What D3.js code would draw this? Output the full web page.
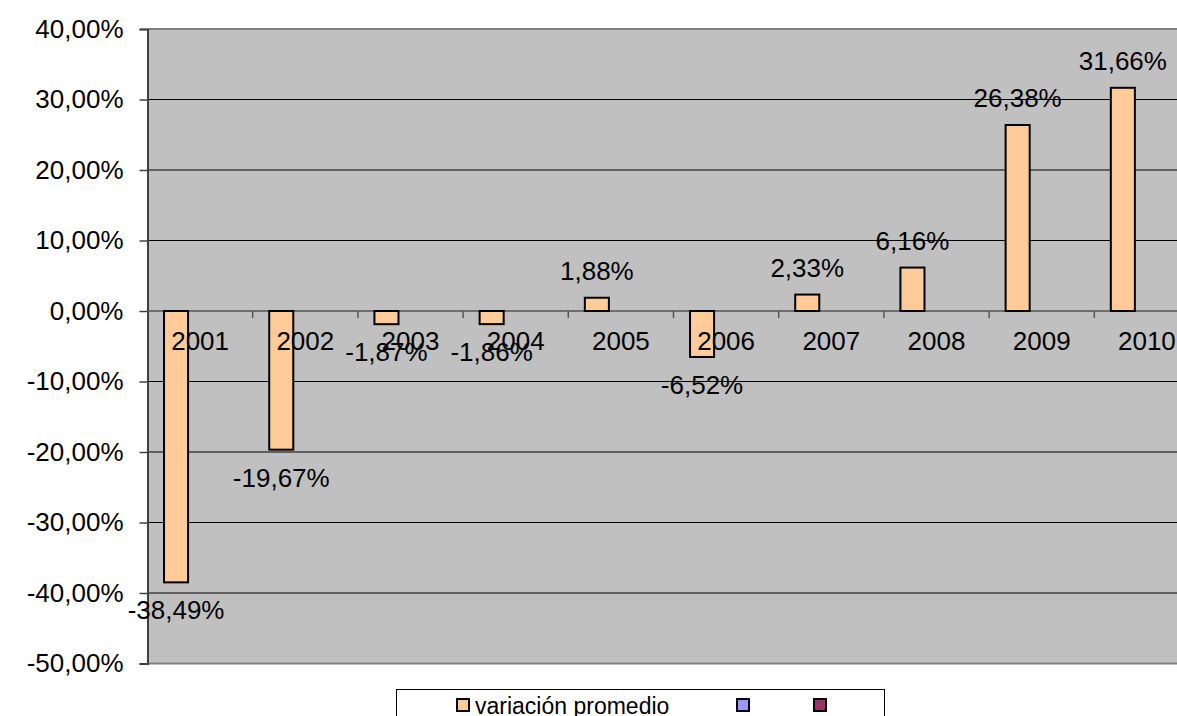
<!DOCTYPE html>
<html>
<head>
<meta charset="utf-8">
<script src="https://cdn.jsdelivr.net/npm/d3@7"></script>
<style>
    body { margin: 0; background: #fff; }
    svg { display: block; font-family: "Liberation Sans", Arial, sans-serif; }
</style>
</head>
<body>
<div id="chart"></div>
<script>
// Data
const years = ['2001', '2002', '2003', '2004', '2005', '2006', '2007', '2008', '2009', '2010'];
const variacion = [-38.49, -19.67, -1.87, -1.86, 1.88, -6.52, 2.33, 6.16, 26.38, 31.66];
const seriesNames = ['variación promedio', '', ''];
const seriesColors = ['#FFCC99', '#9999FF', '#993366'];
const yTicks = [40, 30, 20, 10, 0, -10, -20, -30, -40, -50];

const width = 1177, height = 716;
const plot = { left: 147.5, right: 1199.5, top: 29, bottom: 663.5 };
const fontSize = 26;

const fmt = v => v.toFixed(2).replace('.', ',') + '%';

const svg = d3.select('#chart').append('svg')
    .attr('width', width)
    .attr('height', height);

const y = d3.scaleLinear().domain([-50, 40]).range([plot.bottom, plot.top]);
const x = d3.scaleBand().domain(years).range([plot.left, plot.right]);
const xs = d3.scaleBand().domain([0, 1, 2]).range([0, x.bandwidth()]).paddingOuter(0.6875);

// plot background
svg.append('rect')
    .attr('x', plot.left).attr('y', plot.top)
    .attr('width', plot.right - plot.left).attr('height', plot.bottom - plot.top)
    .attr('fill', '#C0C0C0');

// gridlines
svg.append('g').selectAll('line')
    .data(yTicks.filter(d => d !== 0 && d !== 40 && d !== -50))
    .join('line')
    .attr('x1', plot.left).attr('x2', plot.right)
    .attr('y1', d => y(d)).attr('y2', d => y(d))
    .attr('stroke', '#000').attr('stroke-width', 1);

// top and bottom border
svg.append('line')
    .attr('x1', plot.left).attr('x2', plot.right)
    .attr('y1', plot.top).attr('y2', plot.top)
    .attr('stroke', '#808080').attr('stroke-width', 2);
svg.append('line')
    .attr('x1', plot.left).attr('x2', plot.right)
    .attr('y1', plot.bottom).attr('y2', plot.bottom)
    .attr('stroke', '#808080').attr('stroke-width', 2);

// y axis
const yAxis = d3.axisLeft(y).tickValues(yTicks).tickFormat(fmt).tickSize(8).tickPadding(16);
const gy = svg.append('g')
    .attr('transform', `translate(${plot.left},0)`)
    .call(yAxis);
gy.select('.domain').attr('stroke', '#404040').attr('stroke-width', 2);
gy.selectAll('.tick line').attr('stroke', '#404040').attr('stroke-width', 1.5);
gy.selectAll('.tick text')
    .attr('font-size', fontSize)
    .attr('fill', '#000')
    .attr('font-family', '"Liberation Sans", Arial, sans-serif');

// zero axis line with category tick marks
svg.append('line')
    .attr('x1', plot.left).attr('x2', plot.right)
    .attr('y1', y(0)).attr('y2', y(0))
    .attr('stroke', '#555').attr('stroke-width', 1.5);
svg.append('g').selectAll('line')
    .data(years.slice(1))
    .join('line')
    .attr('x1', d => x(d)).attr('x2', d => x(d))
    .attr('y1', y(0)).attr('y2', y(0) + 7)
    .attr('stroke', '#555').attr('stroke-width', 1.5);

// bars
svg.append('g').selectAll('rect')
    .data(years)
    .join('rect')
    .attr('x', (d) => x(d) + xs(0))
    .attr('width', xs.bandwidth())
    .attr('y', (d, i) => y(Math.max(0, variacion[i])))
    .attr('height', (d, i) => Math.abs(y(variacion[i]) - y(0)))
    .attr('fill', seriesColors[0])
    .attr('stroke', '#000')
    .attr('stroke-width', 2);

// category labels
svg.append('g').selectAll('text')
    .data(years)
    .join('text')
    .attr('x', d => x(d) + x.bandwidth() / 2)
    .attr('y', y(0) + 30)
    .attr('dy', '0.35em')
    .attr('text-anchor', 'middle')
    .attr('font-size', fontSize)
    .text(d => d);

// data labels
svg.append('g').selectAll('text')
    .data(years)
    .join('text')
    .attr('x', d => x(d) + xs(0) + xs.bandwidth() / 2)
    .attr('y', (d, i) => y(variacion[i]) + (variacion[i] >= 0 ? -27 : 28))
    .attr('dy', '0.35em')
    .attr('text-anchor', 'middle')
    .attr('font-size', fontSize)
    .text((d, i) => fmt(variacion[i]));

// legend
const legend = svg.append('g');
legend.append('rect')
    .attr('x', 396.5).attr('y', 689.5)
    .attr('width', 488).attr('height', 40)
    .attr('fill', '#fff').attr('stroke', '#000').attr('stroke-width', 1);
const legendX = [457, 737, 814];
seriesNames.forEach((name, i) => {
    legend.append('rect')
        .attr('x', legendX[i]).attr('y', 699)
        .attr('width', 12).attr('height', 12)
        .attr('fill', seriesColors[i])
        .attr('stroke', '#000').attr('stroke-width', 2);
    if (name) {
        legend.append('text')
            .attr('x', legendX[i] + 18)
            .attr('y', 706)
            .attr('dy', '0.35em')
            .attr('font-size', 23)
            .text(name);
    }
});
</script>
</body>
</html>
